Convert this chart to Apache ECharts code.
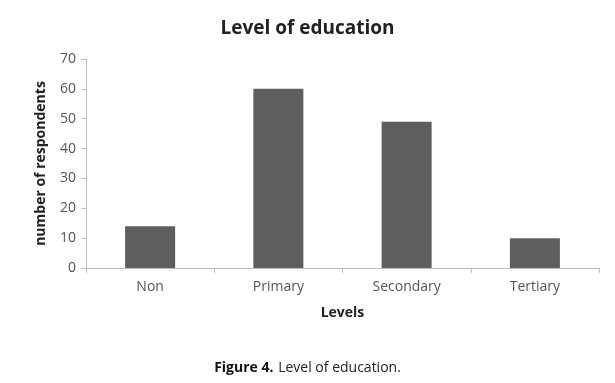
<!DOCTYPE html>
<html><head><meta charset="utf-8">
<script src="https://cdn.jsdelivr.net/npm/echarts@6/dist/echarts.min.js"></script>
<style>html,body{margin:0;padding:0;background:#fff}#c{width:615px;height:383px}</style>
</head><body><div id="c"></div>
<script>
const categories = ["Non", "Primary", "Secondary", "Tertiary"];
const respondents = [14, 60, 49, 10];
const chartTitle = "Level of education";
const xAxisName = "Levels";
const yAxisName = "number of respondents";

const chart = echarts.init(document.getElementById('c'), null, {renderer: 'canvas'});
const font = "'Open Sans', sans-serif";
chart.setOption({
  animation: false,
  textStyle: {fontFamily: font},
  title: [
    {text: chartTitle, left: 'center', top: 14, textStyle: {fontFamily: font, fontSize: 19, fontWeight: 'bold', color: '#222'}},
    {text: '{b|Figure 4.} {n|Level of education.}', left: 'center', top: 354,
     textStyle: {rich: {b: {fontFamily: font, fontSize: 14, fontWeight: 'bold', color: '#111'}, n: {fontFamily: font, fontSize: 14, fontWeight: 'normal', color: '#222'}}}}
  ],
  grid: {left: 86, right: 16, top: 59, bottom: 115},
  xAxis: {
    type: 'category', data: categories,
    name: xAxisName, nameLocation: 'middle', nameGap: 38,
    nameTextStyle: {fontFamily: font, fontSize: 14, fontWeight: 'bold', color: '#222'},
    axisLine: {lineStyle: {color: '#bdbdbd'}},
    axisTick: {show: true, alignWithLabel: false, length: 5, lineStyle: {color: '#bdbdbd'}},
    axisLabel: {fontFamily: font, fontSize: 14, color: '#555', margin: 12}
  },
  yAxis: {
    type: 'value', min: 0, max: 70, interval: 10,
    name: yAxisName, nameLocation: 'middle', nameGap: 38,
    nameTextStyle: {fontFamily: font, fontSize: 14, fontWeight: 'bold', color: '#222'},
    axisLine: {show: true, lineStyle: {color: '#bdbdbd'}},
    axisTick: {show: true, length: 5, lineStyle: {color: '#bdbdbd'}},
    splitLine: {show: false},
    axisLabel: {fontFamily: font, fontSize: 14, color: '#555', margin: 10}
  },
  series: [{
    type: 'bar', data: respondents, barWidth: 50,
    itemStyle: {color: '#5e5e5e'}
  }]
});
</script></body></html>
